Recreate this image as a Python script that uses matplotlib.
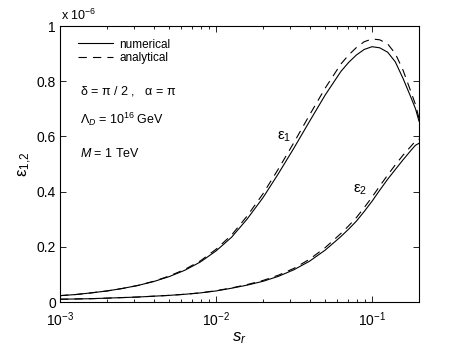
import matplotlib
matplotlib.use("Agg")
import matplotlib.pyplot as plt
from matplotlib.ticker import LogLocator, NullFormatter, FixedLocator

plt.rcParams['font.family'] = ['Liberation Sans', 'DejaVu Sans']
plt.rcParams['mathtext.fontset'] = 'custom'
plt.rcParams['mathtext.rm'] = 'Liberation Sans'
plt.rcParams['mathtext.it'] = 'Liberation Sans:italic'
plt.rcParams['mathtext.bf'] = 'Liberation Sans:bold'

# s_r values (x)
s_r = [0.001, 0.00126, 0.00158, 0.002, 0.00251, 0.00316, 0.00398, 0.00501, 0.00631, 0.00794,
       0.01, 0.0126, 0.0158, 0.02, 0.0251, 0.0316, 0.0398, 0.0501, 0.0631, 0.0708, 0.0794,
       0.0891, 0.1, 0.112, 0.126, 0.141, 0.158, 0.178, 0.19, 0.2]

# epsilon values in units of 1e-6
eps1_num = [0.023, 0.027, 0.033, 0.040, 0.049, 0.060, 0.074, 0.092, 0.115, 0.145,
            0.185, 0.235, 0.300, 0.378, 0.465, 0.558, 0.655, 0.750, 0.835, 0.868, 0.895,
            0.915, 0.925, 0.921, 0.905, 0.870, 0.810, 0.740, 0.700, 0.655]
eps1_ana = [0.023, 0.027, 0.033, 0.040, 0.049, 0.060, 0.075, 0.094, 0.118, 0.149,
            0.191, 0.243, 0.311, 0.392, 0.482, 0.578, 0.678, 0.775, 0.862, 0.895, 0.922,
            0.943, 0.953, 0.950, 0.935, 0.900, 0.840, 0.760, 0.715, 0.665]
eps2_num = [0.010, 0.011, 0.012, 0.014, 0.016, 0.018, 0.021, 0.024, 0.028, 0.033,
            0.040, 0.050, 0.061, 0.075, 0.093, 0.117, 0.148, 0.188, 0.237, 0.264, 0.293,
            0.328, 0.365, 0.405, 0.445, 0.480, 0.515, 0.550, 0.568, 0.575]
eps2_ana = [0.010, 0.011, 0.012, 0.014, 0.016, 0.018, 0.021, 0.024, 0.028, 0.033,
            0.041, 0.051, 0.063, 0.078, 0.097, 0.122, 0.155, 0.197, 0.248, 0.276, 0.306,
            0.342, 0.380, 0.420, 0.460, 0.497, 0.532, 0.565, 0.583, 0.590]

yticks = [0, 0.2, 0.4, 0.6, 0.8, 1]
yticklabels = ['0', '0.2', '0.4', '0.6', '0.8', '1']

fig = plt.figure(figsize=(4.63, 3.48), dpi=100)
ax = fig.add_axes([60/463, 46/348, 359/463, 276/348])

dash = (0, (7.5, 5.5))
ax.plot(s_r, eps1_num, color='black', lw=0.8, label='numerical')
ax.plot(s_r, eps1_ana, color='black', lw=0.8, linestyle=dash, label='analytical')
ax.plot(s_r, eps2_num, color='black', lw=0.8)
ax.plot(s_r, eps2_ana, color='black', lw=0.8, linestyle=dash)

ax.set_xscale('log')
ax.set_xlim(1e-3, 0.2)
ax.set_ylim(0, 1)
ax.yaxis.set_major_locator(FixedLocator(yticks))
ax.set_yticklabels(yticklabels)
ax.xaxis.set_minor_locator(LogLocator(base=10, subs=range(2, 10), numticks=20))
ax.xaxis.set_minor_formatter(NullFormatter())

ax.tick_params(which='both', direction='in', top=True, right=True, labelsize=10, colors='black')
ax.tick_params(which='major', length=4, width=0.6)
ax.tick_params(which='minor', length=2.2, width=0.6)
for sp in ax.spines.values():
    sp.set_linewidth(0.8)
ax.tick_params(axis='x', pad=6)
ax.tick_params(axis='y', pad=3)

ax.set_xlabel(r'$s_r$', fontsize=12, labelpad=1)
ax.set_ylabel(r'$\mathrm{\varepsilon}_{\mathit{1{,}2}}$', fontsize=12, labelpad=2)

leg = ax.legend(loc='upper left', bbox_to_anchor=(0.03, 0.98), frameon=False, fontsize=8.5,
                handlelength=3.0, handletextpad=0.5, labelspacing=0.15, borderaxespad=0.2)

ax.text(80/463, 1 - 95/348, r'$\mathrm{\delta}$ = $\mathrm{\pi}$ / 2 ,   $\mathrm{\alpha}$ = $\mathrm{\pi}$',
        transform=fig.transFigure, fontsize=9, va='baseline')
ax.text(80/463, 1 - 124/348, r'$\Lambda_{D}$ = 10$^{16}$ GeV',
        transform=fig.transFigure, fontsize=9, va='baseline')
ax.text(80/463, 1 - 157/348, r'$M$ = 1 TeV',
        transform=fig.transFigure, fontsize=9, va='baseline')

ax.text(277/463, 1 - 140/348, r'$\mathrm{\varepsilon}_{\mathit{1}}$',
        transform=fig.transFigure, fontsize=11, va='baseline')
ax.text(353/463, 1 - 193/348, r'$\mathrm{\varepsilon}_{\mathit{2}}$',
        transform=fig.transFigure, fontsize=11, va='baseline')

fig.text(61/463, 1 - 20/348, r'x 10$^{-6}$', fontsize=9, va='baseline')

fig.savefig('out.png', dpi=100)
